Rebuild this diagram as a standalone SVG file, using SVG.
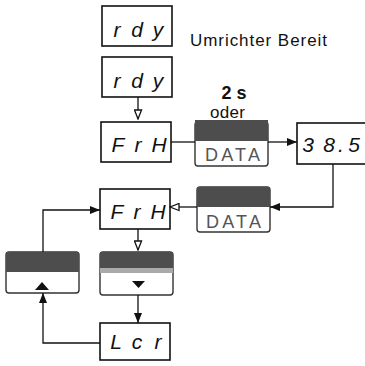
<svg xmlns="http://www.w3.org/2000/svg" width="365" height="366" viewBox="0 0 365 366">
<style>
.box{fill:#fff;stroke:#111;stroke-width:1.6}
.seg{font-family:"Liberation Sans",Arial,sans-serif;font-style:italic;font-size:21px;fill:#111;text-anchor:middle}
.lbl{font-family:"Liberation Sans",Arial,sans-serif;fill:#111}
.dark{fill:#4d4d4d}
.btn{fill:#fff;stroke:#333;stroke-width:1.4}
.data{font-family:"Liberation Sans",Arial,sans-serif;font-size:18px;fill:#555}
.ln{fill:none;stroke:#111;stroke-width:1.3}
</style>
<defs>
<marker id="fa" viewBox="0 0 10 8" refX="10" refY="4" markerWidth="10" markerHeight="8" markerUnits="userSpaceOnUse" orient="auto"><path d="M0,0 L10,4 L0,8 Z" fill="#111"/></marker>
<marker id="ha" viewBox="0 0 11 9" refX="10" refY="4.5" markerWidth="11" markerHeight="9" markerUnits="userSpaceOnUse" orient="auto"><path d="M1,1 L10,4.5 L1,8 Z" fill="#fff" stroke="#111" stroke-width="1.3"/></marker>
</defs>
<rect width="365" height="366" fill="#fff"/>

<g id="rdy1">
<rect class="box" x="102" y="6" width="70" height="40"/>
<text class="seg" y="37"><tspan x="117">r</tspan><tspan x="137">d</tspan><tspan x="158">y</tspan></text>
</g>
<g id="label-bereit">
<text class="lbl" x="190" y="46" font-size="17" textLength="137" lengthAdjust="spacing">Umrichter Bereit</text>
</g>
<g id="rdy2">
<rect class="box" x="102" y="57" width="70" height="40"/>
<text class="seg" y="88"><tspan x="117">r</tspan><tspan x="137">d</tspan><tspan x="158">y</tspan></text>
</g>
<g id="frh1">
<rect class="box" x="101" y="122" width="70" height="40"/>
<text class="seg" y="152"><tspan x="118">F</tspan><tspan x="138">r</tspan><tspan x="159">H</tspan></text>
</g>
<g id="label-2s">
<text class="lbl" x="234" y="99" font-size="18" font-weight="bold" text-anchor="middle">2 s</text>
<text class="lbl" x="210" y="118" font-size="17" textLength="35" lengthAdjust="spacing">oder</text>
</g>
<g id="data1">
<rect class="btn" x="195" y="122" width="73" height="44" rx="3"/>
<rect class="dark" x="195" y="120" width="73" height="21"/>
<text class="data" x="205" y="161" textLength="55" lengthAdjust="spacing">DATA</text>
</g>
<g id="val385">
<rect class="box" x="297" y="123" width="75" height="41"/>
<text class="seg" y="152" font-size="20"><tspan x="308">3</tspan><tspan x="329">8</tspan><tspan x="341">.</tspan><tspan x="354">5</tspan></text>
</g>
<g id="data2">
<rect class="btn" x="197" y="187" width="73" height="45" rx="3"/>
<rect class="dark" x="197" y="187" width="73" height="20"/>
<text class="data" x="206" y="228" textLength="55" lengthAdjust="spacing">DATA</text>
</g>
<g id="frh2">
<rect class="box" x="100" y="189" width="70" height="40"/>
<text class="seg" y="219"><tspan x="117">F</tspan><tspan x="137">r</tspan><tspan x="158">H</tspan></text>
</g>
<g id="btn-up">
<rect class="btn" x="6" y="252" width="73" height="41" rx="3"/>
<rect class="dark" x="6" y="252" width="73" height="20"/>
<path d="M35,290 L42,282 L49,290 Z" fill="#111"/>
</g>
<g id="btn-down">
<rect class="btn" x="100" y="252" width="73" height="43" rx="3"/>
<rect class="dark" x="100" y="252" width="73" height="16"/>
<rect x="100" y="268" width="73" height="5" fill="#aaa"/>
<path d="M132,281 L145,281 L138.5,288 Z" fill="#111"/>
</g>
<g id="lcr">
<rect class="box" x="100" y="323" width="70" height="37"/>
<text class="seg" y="349"><tspan x="116">L</tspan><tspan x="137">c</tspan><tspan x="158">r</tspan></text>
</g>

<g id="connectors">
<path class="ln" d="M138,97 V119" marker-end="url(#ha)"/>
<path class="ln" d="M171,142 H195"/>
<path class="ln" d="M268,142 H297" marker-end="url(#fa)"/>
<path class="ln" d="M333,164 V207 H270" marker-end="url(#fa)"/>
<path class="ln" d="M197,207 H170" marker-end="url(#ha)"/>
<path class="ln" d="M43,252 V210 H100" marker-end="url(#fa)"/>
<path class="ln" d="M138,229 V250" marker-end="url(#ha)"/>
<path class="ln" d="M138,295 V323" marker-end="url(#fa)"/>
<path class="ln" d="M100,343 H43 V293" marker-end="url(#fa)"/>
</g>
</svg>
